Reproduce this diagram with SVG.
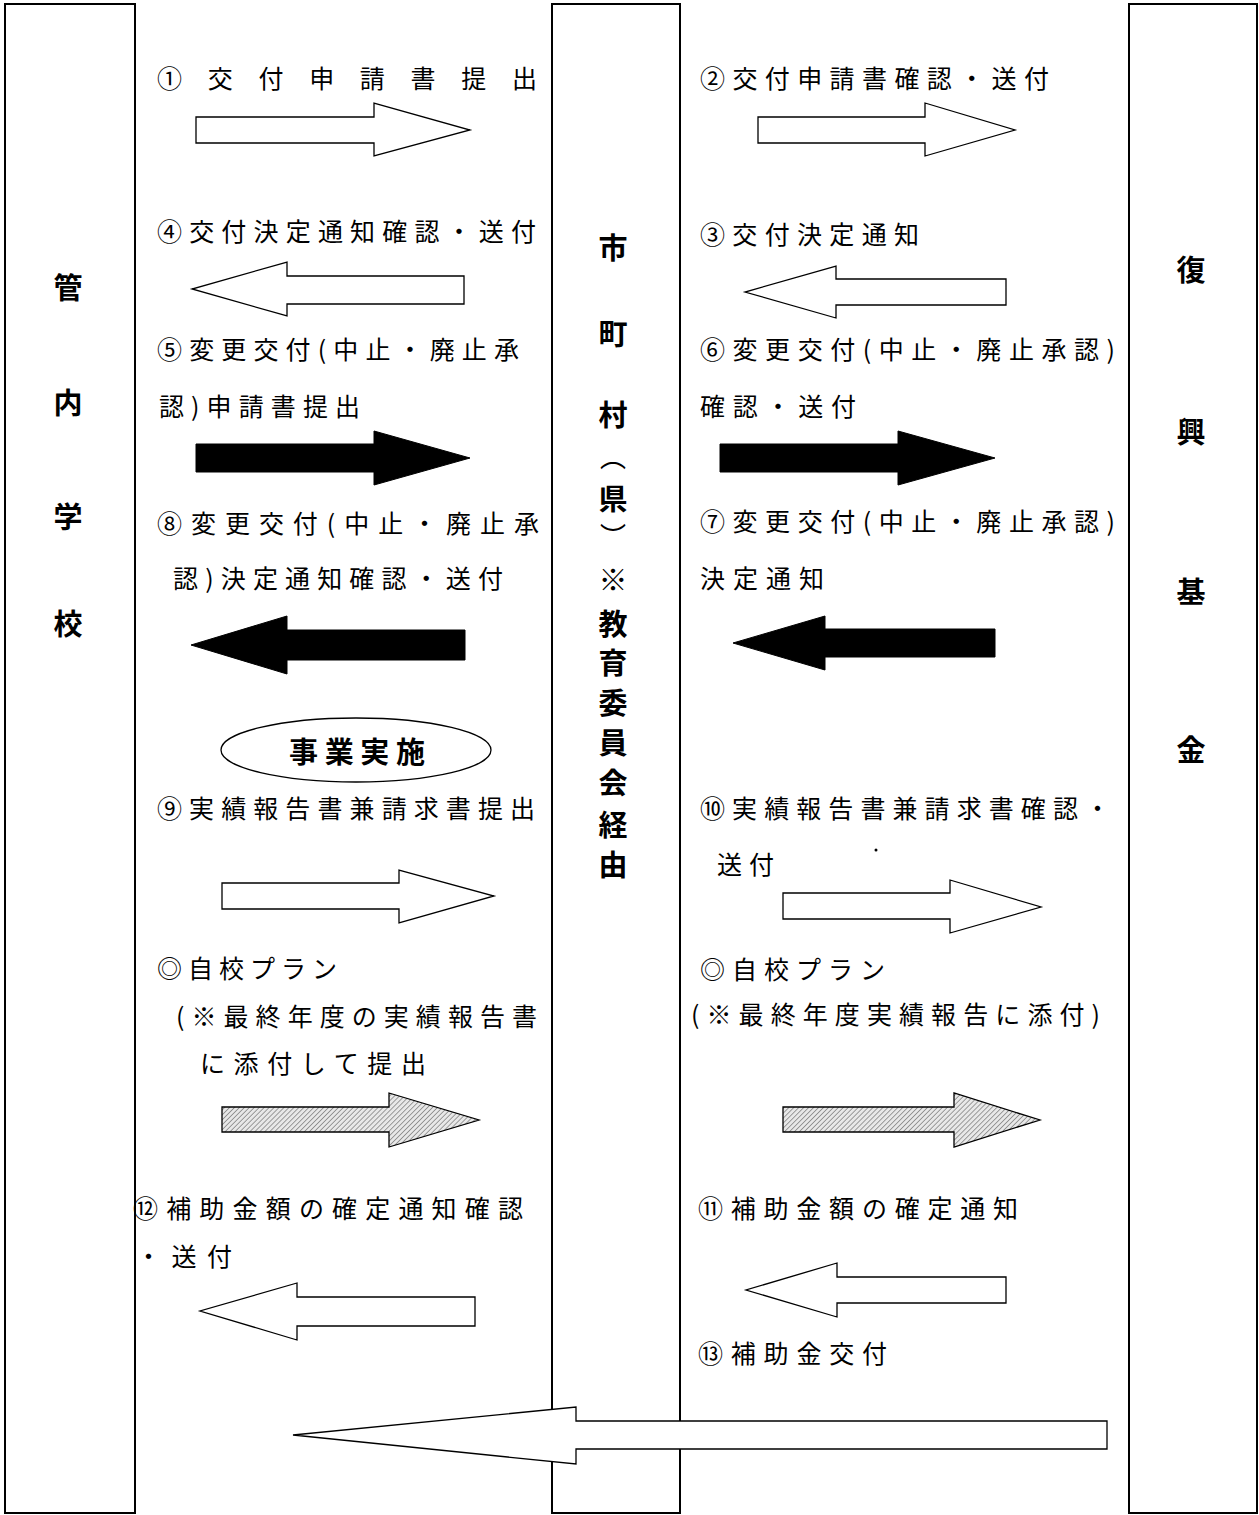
<svg xmlns="http://www.w3.org/2000/svg" width="1259" height="1515" viewBox="0 0 1259 1515">
<defs>
<style>
.col{fill:#fff;stroke:#000;stroke-width:2}
.lbl{font-family:"Noto Sans CJK JP","Noto Sans CJK SC",sans-serif;font-size:29px;font-weight:bold;fill:#000;text-anchor:middle;dominant-baseline:central}
.par{font-family:"Noto Sans CJK JP","Noto Sans CJK SC",sans-serif;font-size:26px;fill:#000;text-anchor:middle;dominant-baseline:central}
.t{font-family:"Noto Sans CJK JP","Noto Sans CJK SC",sans-serif;font-size:25px;fill:#000;dominant-baseline:central}
.wa{fill:#fff;stroke:#000;stroke-width:1.3;stroke-linejoin:miter}
.ba{fill:#000;stroke:#000;stroke-width:1}
.ha{fill:url(#hatch);stroke:#000;stroke-width:1.3}
</style>
<pattern id="hatch" width="3.5" height="3.5" patternUnits="userSpaceOnUse" patternTransform="rotate(45)">
<rect width="3.5" height="3.5" fill="#e8e8e8"/>
<line x1="0" y1="0" x2="0" y2="3.5" stroke="#707070" stroke-width="1.3"/>
</pattern>
</defs>
<rect width="1259" height="1515" fill="#fff"/>

<g id="school">
<rect class="col" x="5" y="4" width="130" height="1509"/>
<text class="lbl" x="68" y="286">管</text>
<text class="lbl" x="68" y="401">内</text>
<text class="lbl" x="68" y="515">学</text>
<text class="lbl" x="68" y="622">校</text>
</g>

<g id="municipality">
<rect class="col" x="552" y="4" width="128" height="1509"/>
<text class="lbl" x="613" y="246">市</text>
<text class="lbl" x="613" y="332">町</text>
<text class="lbl" x="613" y="413">村</text>
<text class="par" x="613" y="455">︵</text>
<text class="lbl" x="613" y="497">県</text>
<text class="par" x="613" y="534">︶</text>
<text class="lbl" x="613" y="578">※</text>
<text class="lbl" x="613" y="622">教</text>
<text class="lbl" x="613" y="661">育</text>
<text class="lbl" x="613" y="701">委</text>
<text class="lbl" x="613" y="741">員</text>
<text class="lbl" x="613" y="781">会</text>
<text class="lbl" x="613" y="823">経</text>
<text class="lbl" x="613" y="863">由</text>
</g>

<g id="fund">
<rect class="col" x="1129" y="4" width="128" height="1509"/>
<text class="lbl" x="1191" y="268">復</text>
<text class="lbl" x="1191" y="430">興</text>
<text class="lbl" x="1191" y="590">基</text>
<text class="lbl" x="1191" y="748">金</text>
</g>

<g id="jigyo">
<ellipse cx="356" cy="750" rx="135" ry="32" fill="#fff" stroke="#000" stroke-width="1.3"/>
<text x="289" y="750" textLength="136" lengthAdjust="spacing" style="font-family:'Noto Sans CJK JP','Noto Sans CJK SC',sans-serif;font-size:29px;font-weight:bold;dominant-baseline:central">事業実施</text>
</g>

<g id="labels">
<text class="t" x="157" y="77" textLength="380" lengthAdjust="spacing">① 交 付 申 請 書 提 出</text>
<text class="t" x="157" y="230" textLength="379" lengthAdjust="spacing">④交付決定通知確認・送付</text>
<text class="t" x="157" y="348" textLength="362" lengthAdjust="spacing">⑤変更交付(中止・廃止承</text>
<text class="t" x="159" y="405" textLength="201" lengthAdjust="spacing">認)申請書提出</text>
<text class="t" x="157" y="522" textLength="382" lengthAdjust="spacing">⑧変更交付(中止・廃止承</text>
<text class="t" x="173" y="577" textLength="330" lengthAdjust="spacing">認)決定通知確認・送付</text>
<text class="t" x="157" y="807" textLength="378" lengthAdjust="spacing">⑨実績報告書兼請求書提出</text>
<text class="t" x="157" y="967" textLength="180" lengthAdjust="spacing">◎自校プラン</text>
<text class="t" x="176" y="1015" textLength="361" lengthAdjust="spacing">(※最終年度の実績報告書</text>
<text class="t" x="200" y="1062" textLength="226" lengthAdjust="spacing">に添付して提出</text>
<text class="t" x="133" y="1207" textLength="390" lengthAdjust="spacing">⑫補助金額の確定通知確認</text>
<text class="t" x="136" y="1255" textLength="96" lengthAdjust="spacing">・送付</text>

<text class="t" x="700" y="77" textLength="349" lengthAdjust="spacing">②交付申請書確認・送付</text>
<text class="t" x="700" y="233" textLength="219" lengthAdjust="spacing">③交付決定通知</text>
<text class="t" x="700" y="348" textLength="415" lengthAdjust="spacing">⑥変更交付(中止・廃止承認)</text>
<text class="t" x="700" y="405" textLength="156" lengthAdjust="spacing">確認・送付</text>
<text class="t" x="700" y="520" textLength="415" lengthAdjust="spacing">⑦変更交付(中止・廃止承認)</text>
<text class="t" x="700" y="577" textLength="124" lengthAdjust="spacing">決定通知</text>
<text class="t" x="700" y="807" textLength="410" lengthAdjust="spacing">⑩実績報告書兼請求書確認・</text>
<text class="t" x="717" y="863" textLength="57" lengthAdjust="spacing">送付</text>
<text class="t" x="700" y="968" textLength="185" lengthAdjust="spacing">◎自校プラン</text>
<text class="t" x="691" y="1013" textLength="409" lengthAdjust="spacing">(※最終年度実績報告に添付)</text>
<text class="t" x="698" y="1207" textLength="320" lengthAdjust="spacing">⑪補助金額の確定通知</text>
<text class="t" x="698" y="1352" textLength="189" lengthAdjust="spacing">⑬補助金交付</text>
<circle cx="876" cy="850" r="1.5" fill="#000"/>
</g>

<g id="connectors">
<polygon class="wa" points="196,117 374,117 374,103 470,130 374,156 374,143 196,143"/>
<polygon class="wa" points="758,117 925,117 925,103 1015,130 925,156 925,143 758,143"/>
<polygon class="wa" points="464,276 287,276 287,262 192,289 287,316 287,304 464,304"/>
<polygon class="wa" points="1006,279 836,279 836,266 745,292 836,318 836,305 1006,305"/>
<polygon class="ba" points="196,444 374,444 374,431 470,458 374,485 374,472 196,472"/>
<polygon class="ba" points="720,444 898,444 898,431 995,458 898,485 898,472 720,472"/>
<polygon class="ba" points="465,630 287,630 287,616 191,645 287,674 287,660 465,660"/>
<polygon class="ba" points="995,629 825,629 825,616 733,643 825,670 825,657 995,657"/>
<polygon class="wa" points="222,883 399,883 399,870 494,896 399,923 399,909 222,909"/>
<polygon class="wa" points="783,893 950,893 950,880 1041,907 950,933 950,919 783,919"/>
<polygon class="ha" points="222,1107 389,1107 389,1093 479,1120 389,1147 389,1132 222,1132"/>
<polygon class="ha" points="783,1107 954,1107 954,1093 1040,1120 954,1147 954,1132 783,1132"/>
<polygon class="wa" points="475,1297 297,1297 297,1283 200,1311 297,1340 297,1326 475,1326"/>
<polygon class="wa" points="1006,1277 837,1277 837,1263 746,1290 837,1317 837,1303 1006,1303"/>
<polygon class="wa" points="1107,1421 576,1421 576,1407 293,1435 576,1464 576,1449 1107,1449"/>
</g>
</svg>
